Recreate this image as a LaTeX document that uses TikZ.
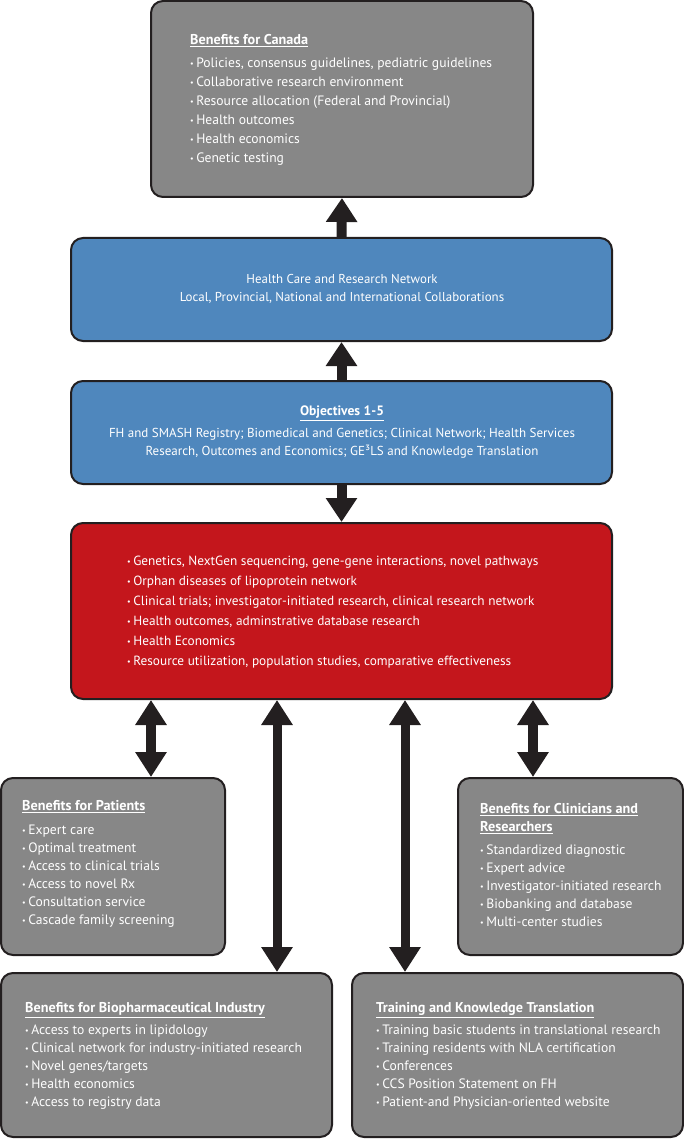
\documentclass[tikz,border=0pt]{standalone}
\usepackage{fontspec}
\setmainfont{PT Sans}
\usetikzlibrary{arrows.meta}
\definecolor{boxgray}{RGB}{135,135,135}
\definecolor{boxblue}{RGB}{79,135,189}
\definecolor{boxred}{RGB}{196,22,28}
\definecolor{edge}{RGB}{35,31,32}
\newcommand{\bul}{{\fontsize{8}{8}\selectfont\raisebox{0.25ex}{•}}\hspace{2.5pt}}
\newcommand{\ttl}[1]{{\fontsize{14.2}{18}\selectfont\textbf{\underline{#1}}}}
\begin{document}
\begin{tikzpicture}[x=1pt,y=-1pt,
  box/.style={draw=edge, line width=2pt, rounded corners=12pt, minimum width=#1, inner sep=0pt},
  gbox/.style={box=#1, fill=boxgray},
  bbox/.style={box=#1, fill=boxblue},
  rbox/.style={box=#1, fill=boxred},
  txt/.style={text=white, inner sep=0pt, align=left, anchor=north west},
  ctxt/.style={text=white, inner sep=0pt, align=center, anchor=north},
  arr/.style={draw=edge, line width=10pt, -{Triangle[width=30pt,length=24pt]}},
  darr/.style={draw=edge, line width=10pt, {Triangle[width=30pt,length=25pt]}-{Triangle[width=30pt,length=25pt]}},
  ldarr/.style={draw=edge, line width=9pt, {Triangle[width=30pt,length=25pt]}-{Triangle[width=30pt,length=25pt]}}
]
\useasboundingbox (0,0) rectangle (684,1139);

% boxes
\node[gbox=382pt, minimum height=196pt] (canada) at (342,99) {};
\node[bbox=541pt, minimum height=103pt] (net) at (341.5,289.5) {};
\node[bbox=541pt, minimum height=103pt] (obj) at (341.5,432.5) {};
\node[rbox=541pt, minimum height=176pt] (red) at (341.5,611) {};
\node[gbox=224pt, minimum height=177pt] (pat) at (113,866.5) {};
\node[gbox=225pt, minimum height=177pt] (clin) at (570.5,866.5) {};
\node[gbox=331pt, minimum height=164pt] (bio) at (166.5,1055) {};
\node[gbox=331pt, minimum height=164pt] (train) at (517.5,1055) {};

% texts
\node[txt, font=\fontsize{13.6}{19}\selectfont] (tcanada) at (190,31.3) {\strut\ttl{Benefits for Canada}\\[4pt]
\bul Policies, consensus guidelines, pediatric guidelines\\
\bul Collaborative research environment\\
\bul Resource allocation (Federal and Provincial)\\
\bul Health outcomes\\
\bul Health economics\\
\bul Genetic testing};

\node[ctxt, font=\fontsize{12.9}{18}\selectfont] (tnet) at (342,271) {\strut Health Care and Research Network\\
Local, Provincial, National and International Collaborations};

\node[ctxt, font=\fontsize{13}{18}\selectfont] (tobj) at (342,403) {\strut{\fontsize{13.6}{18}\selectfont\textbf{\underline{Objectives 1-5}}}\\[4pt]
FH and SMASH Registry; Biomedical and Genetics; Clinical Network; Health Services\\
Research, Outcomes and Economics; GE³LS and Knowledge Translation};

\node[txt, font=\fontsize{13.3}{20}\selectfont] (tred) at (127,551.6) {\strut\bul Genetics, NextGen sequencing, gene-gene interactions, novel pathways\\
\bul Orphan diseases of lipoprotein network\\
\bul Clinical trials; investigator-initiated research, clinical research network\\
\bul Health outcomes, adminstrative database research\\
\bul Health Economics\\
\bul Resource utilization, population studies, comparative effectiveness};

\node[txt, font=\fontsize{13.6}{18}\selectfont] (tpat) at (22,798) {\strut\ttl{Benefits for Patients}\\[6pt]
\bul Expert care\\
\bul Optimal treatment\\
\bul Access to clinical trials\\
\bul Access to novel Rx\\
\bul Consultation service\\
\bul Cascade family screening};

\node[txt, font=\fontsize{13.6}{18}\selectfont] (tclin) at (480,801) {\strut\ttl{Benefits for Clinicians and}\\
\ttl{Researchers}\\[5pt]
\bul Standardized diagnostic\\
\bul Expert advice\\
\bul Investigator-initiated research\\
\bul Biobanking and database\\
\bul Multi-center studies};

\node[txt, font=\fontsize{13.6}{18}\selectfont] (tbio) at (25,1000) {\strut\ttl{Benefits for Biopharmaceutical Industry}\\[4pt]
\bul Access to experts in lipidology\\
\bul Clinical network for industry-initiated research\\
\bul Novel genes/targets\\
\bul Health economics\\
\bul Access to registry data};

\node[txt, font=\fontsize{13.6}{18}\selectfont] (ttrain) at (376,1000) {\strut\ttl{Training and Knowledge Translation}\\[4pt]
\bul Training basic students in translational research\\
\bul Training residents with NLA certification\\
\bul Conferences\\
\bul CCS Position Statement on FH\\
\bul Patient-and Physician-oriented website};

% arrow columns
\coordinate (c1) at (151,0);
\coordinate (c2) at (277,0);
\coordinate (c3) at (405,0);
\coordinate (c4) at (533,0);

% arrows
\draw[arr] (net.north) -- (canada.south);
\draw[arr] (obj.north) -- (net.south);
\draw[arr] (obj.south) -- (red.north);
\draw[darr] (red.south -| c1) -- (pat.north -| c1);
\draw[darr] (red.south -| c4) -- (clin.north -| c4);
\draw[ldarr] (red.south -| c2) -- (bio.north -| c2);
\draw[ldarr] (red.south -| c3) -- (train.north -| c3);
\end{tikzpicture}
\end{document}
